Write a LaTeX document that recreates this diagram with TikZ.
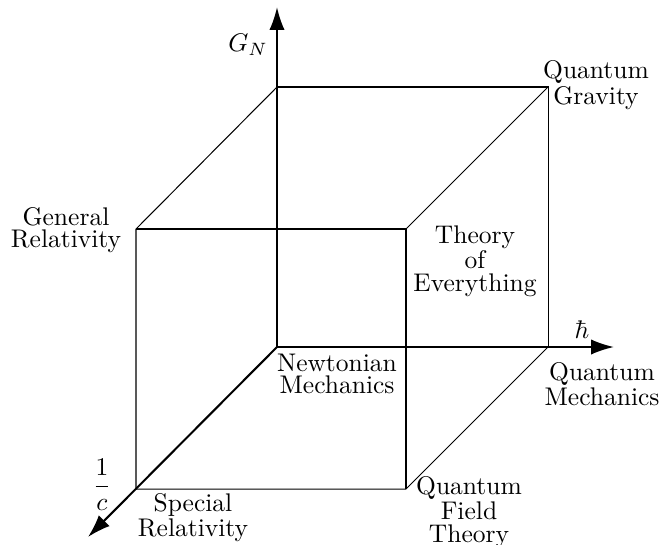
\documentclass[tikz,border=0pt]{standalone}
\usetikzlibrary{arrows.meta}
\begin{document}
\begin{tikzpicture}[x=0.392pt,y=-0.392pt,
  edge/.style={line width=0.4pt},
  axis/.style={line width=0.8pt,-{Latex[length=9pt,width=6pt]}},
  lbl/.style={align=center,inner sep=0pt,font=\fontsize{10pt}{8.8pt}\selectfont}]
\useasboundingbox (0,0) rectangle (661,544);
% cube corners
\coordinate (O) at (277,347);
\coordinate (X) at (548,347);
\coordinate (Y) at (277,87);
\coordinate (XY) at (548,87);
\coordinate (Z) at (136,489);
\coordinate (XZ) at (406,489);
\coordinate (YZ) at (136,229);
\coordinate (XYZ) at (406,229);
% axis ends
\coordinate (Gend) at (277,7);
\coordinate (Hend) at (614,347);
\coordinate (Cend) at (88,537);
% cube edges
\draw[edge] (Y) -- (XY) -- (X);
\draw[edge] (Z) -- (XZ) -- (X);
\draw[edge] (YZ) -- (XYZ) -- (XZ);
\draw[edge] (Z) -- (YZ) -- (Y);
\draw[edge] (XYZ) -- (XY);
% axes
\draw[axis] (O) -- (Gend);
\draw[axis] (O) -- (Hend);
\draw[axis] (O) -- (Cend);
% labels
\node[lbl] (gn) at (248,45) {$G_N$};
\node[lbl] (hb) at (582,330) {$\hbar$};
\node[lbl] (ic) at (102,485) {$\displaystyle\frac{1}{c}$};
\node[lbl] (gr) at (66,230) {General\\Relativity};
\node[lbl] (qg) at (596,85) {Quantum\\Gravity};
\node[lbl] (toe) at (475,261) {Theory\\of\\Everything};
\node[lbl] (nm) at (337,374) {Newtonian\\Mechanics};
\node[lbl] (qm) at (602,384) {Quantum\\Mechanics};
\node[lbl] (sr) at (193,518) {Special\\Relativity};
\node[lbl] (qft) at (469,512) {Quantum\\Field\\Theory};
\end{tikzpicture}
\end{document}
